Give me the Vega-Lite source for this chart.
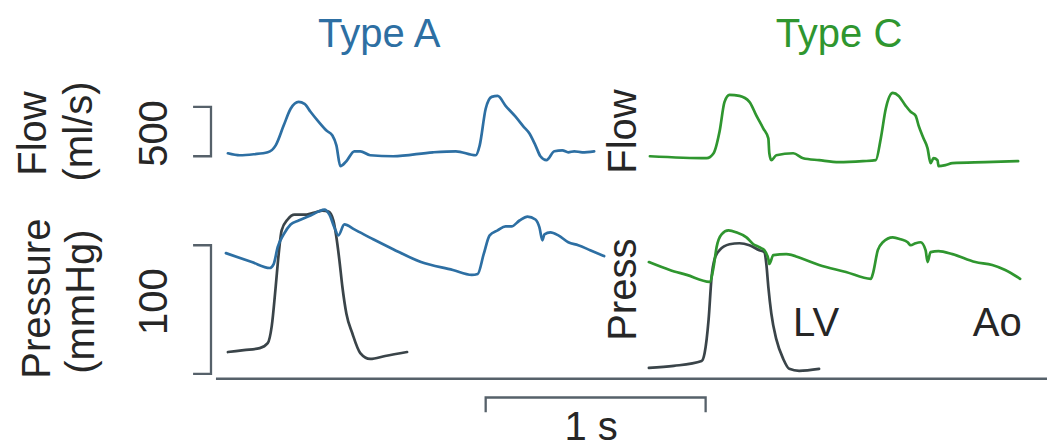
{
  "$schema": "https://vega.github.io/schema/vega-lite/v6.json",
  "width": 1052,
  "height": 448,
  "autosize": {"type": "fit", "contains": "padding"},
  "padding": 0,
  "background": "white",
  "config": {"view": {"stroke": null}, "text": {"font": "Liberation Sans"}},
  "datasets": {
    "guides": [
      {"g": "brFlow", "i": 0, "x": 194, "y": 108}, {"g": "brFlow", "i": 1, "x": 212, "y": 108}, {"g": "brFlow", "i": 2, "x": 212, "y": 158}, {"g": "brFlow", "i": 3, "x": 194, "y": 158},
      {"g": "brPress", "i": 0, "x": 194, "y": 248}, {"g": "brPress", "i": 1, "x": 212, "y": 248}, {"g": "brPress", "i": 2, "x": 212, "y": 378}, {"g": "brPress", "i": 3, "x": 194, "y": 378},
      {"g": "axis", "i": 0, "x": 217, "y": 383}, {"g": "axis", "i": 1, "x": 1052, "y": 383},
      {"g": "bar", "i": 0, "x": 488, "y": 417}, {"g": "bar", "i": 1, "x": 488, "y": 402}, {"g": "bar", "i": 2, "x": 709, "y": 402}, {"g": "bar", "i": 3, "x": 709, "y": 417}
    ],
    "lv": [
      {"s": "lvA", "i": 0, "x": 229, "y": 356}, {"s": "lvA", "i": 1, "x": 245, "y": 354}, {"s": "lvA", "i": 2, "x": 261, "y": 352}, {"s": "lvA", "i": 3, "x": 269, "y": 347}, {"s": "lvA", "i": 4, "x": 273, "y": 330}, {"s": "lvA", "i": 5, "x": 277, "y": 290}, {"s": "lvA", "i": 6, "x": 280, "y": 257}, {"s": "lvA", "i": 7, "x": 283, "y": 233}, {"s": "lvA", "i": 8, "x": 289, "y": 222}, {"s": "lvA", "i": 9, "x": 296, "y": 217}, {"s": "lvA", "i": 10, "x": 308, "y": 217}, {"s": "lvA", "i": 11, "x": 316, "y": 215}, {"s": "lvA", "i": 12, "x": 324, "y": 213}, {"s": "lvA", "i": 13, "x": 330, "y": 214}, {"s": "lvA", "i": 14, "x": 335, "y": 223}, {"s": "lvA", "i": 15, "x": 338, "y": 240}, {"s": "lvA", "i": 16, "x": 341, "y": 263}, {"s": "lvA", "i": 17, "x": 344, "y": 290}, {"s": "lvA", "i": 18, "x": 348, "y": 317}, {"s": "lvA", "i": 19, "x": 354, "y": 337}, {"s": "lvA", "i": 20, "x": 362, "y": 357}, {"s": "lvA", "i": 21, "x": 372, "y": 363}, {"s": "lvA", "i": 22, "x": 387, "y": 360}, {"s": "lvA", "i": 23, "x": 409, "y": 356},
      {"s": "lvC", "i": 0, "x": 652, "y": 372}, {"s": "lvC", "i": 1, "x": 677, "y": 370}, {"s": "lvC", "i": 2, "x": 705, "y": 365}, {"s": "lvC", "i": 3, "x": 708, "y": 357}, {"s": "lvC", "i": 4, "x": 712, "y": 323}, {"s": "lvC", "i": 5, "x": 715, "y": 280}, {"s": "lvC", "i": 6, "x": 718, "y": 262}, {"s": "lvC", "i": 7, "x": 723, "y": 253}, {"s": "lvC", "i": 8, "x": 733, "y": 247}, {"s": "lvC", "i": 9, "x": 743, "y": 246}, {"s": "lvC", "i": 10, "x": 753, "y": 248}, {"s": "lvC", "i": 11, "x": 763, "y": 253}, {"s": "lvC", "i": 12, "x": 768, "y": 255}, {"s": "lvC", "i": 13, "x": 770, "y": 267}, {"s": "lvC", "i": 14, "x": 772, "y": 290}, {"s": "lvC", "i": 15, "x": 775, "y": 317}, {"s": "lvC", "i": 16, "x": 780, "y": 343}, {"s": "lvC", "i": 17, "x": 787, "y": 363}, {"s": "lvC", "i": 18, "x": 793, "y": 373}, {"s": "lvC", "i": 19, "x": 803, "y": 375}, {"s": "lvC", "i": 20, "x": 823, "y": 373}
    ],
    "traces": [
      {"s": "flowA", "i": 0, "x": 229, "y": 155}, {"s": "flowA", "i": 1, "x": 241, "y": 157}, {"s": "flowA", "i": 2, "x": 255, "y": 156}, {"s": "flowA", "i": 3, "x": 269, "y": 154}, {"s": "flowA", "i": 4, "x": 277, "y": 147}, {"s": "flowA", "i": 5, "x": 285, "y": 127}, {"s": "flowA", "i": 6, "x": 292, "y": 110}, {"s": "flowA", "i": 7, "x": 300, "y": 103}, {"s": "flowA", "i": 8, "x": 306, "y": 105}, {"s": "flowA", "i": 9, "x": 312, "y": 113}, {"s": "flowA", "i": 10, "x": 320, "y": 123}, {"s": "flowA", "i": 11, "x": 328, "y": 132}, {"s": "flowA", "i": 12, "x": 334, "y": 137}, {"s": "flowA", "i": 13, "x": 338, "y": 147}, {"s": "flowA", "i": 14, "x": 342, "y": 168}, {"s": "flowA", "i": 15, "x": 348, "y": 163}, {"s": "flowA", "i": 16, "x": 356, "y": 153}, {"s": "flowA", "i": 17, "x": 362, "y": 153}, {"s": "flowA", "i": 18, "x": 372, "y": 157}, {"s": "flowA", "i": 19, "x": 395, "y": 158}, {"s": "flowA", "i": 20, "x": 435, "y": 154}, {"s": "flowA", "i": 21, "x": 458, "y": 153}, {"s": "flowA", "i": 22, "x": 478, "y": 157}, {"s": "flowA", "i": 23, "x": 482, "y": 147}, {"s": "flowA", "i": 24, "x": 488, "y": 110}, {"s": "flowA", "i": 25, "x": 494, "y": 98}, {"s": "flowA", "i": 26, "x": 500, "y": 97}, {"s": "flowA", "i": 27, "x": 508, "y": 107}, {"s": "flowA", "i": 28, "x": 518, "y": 118}, {"s": "flowA", "i": 29, "x": 526, "y": 128}, {"s": "flowA", "i": 30, "x": 532, "y": 135}, {"s": "flowA", "i": 31, "x": 538, "y": 147}, {"s": "flowA", "i": 32, "x": 543, "y": 158}, {"s": "flowA", "i": 33, "x": 549, "y": 162}, {"s": "flowA", "i": 34, "x": 557, "y": 153}, {"s": "flowA", "i": 35, "x": 565, "y": 152}, {"s": "flowA", "i": 36, "x": 571, "y": 154}, {"s": "flowA", "i": 37, "x": 577, "y": 153}, {"s": "flowA", "i": 38, "x": 585, "y": 154}, {"s": "flowA", "i": 39, "x": 597, "y": 153},
      {"s": "pressA", "i": 0, "x": 227, "y": 256}, {"s": "pressA", "i": 1, "x": 253, "y": 265}, {"s": "pressA", "i": 2, "x": 271, "y": 271}, {"s": "pressA", "i": 3, "x": 275, "y": 267}, {"s": "pressA", "i": 4, "x": 279, "y": 250}, {"s": "pressA", "i": 5, "x": 285, "y": 237}, {"s": "pressA", "i": 6, "x": 292, "y": 227}, {"s": "pressA", "i": 7, "x": 300, "y": 223}, {"s": "pressA", "i": 8, "x": 312, "y": 218}, {"s": "pressA", "i": 9, "x": 320, "y": 214}, {"s": "pressA", "i": 10, "x": 326, "y": 212}, {"s": "pressA", "i": 11, "x": 331, "y": 217}, {"s": "pressA", "i": 12, "x": 336, "y": 230}, {"s": "pressA", "i": 13, "x": 340, "y": 238}, {"s": "pressA", "i": 14, "x": 346, "y": 227}, {"s": "pressA", "i": 15, "x": 356, "y": 232}, {"s": "pressA", "i": 16, "x": 375, "y": 242}, {"s": "pressA", "i": 17, "x": 395, "y": 252}, {"s": "pressA", "i": 18, "x": 423, "y": 265}, {"s": "pressA", "i": 19, "x": 455, "y": 273}, {"s": "pressA", "i": 20, "x": 474, "y": 278}, {"s": "pressA", "i": 21, "x": 480, "y": 277}, {"s": "pressA", "i": 22, "x": 486, "y": 257}, {"s": "pressA", "i": 23, "x": 492, "y": 238}, {"s": "pressA", "i": 24, "x": 500, "y": 233}, {"s": "pressA", "i": 25, "x": 508, "y": 229}, {"s": "pressA", "i": 26, "x": 514, "y": 229}, {"s": "pressA", "i": 27, "x": 522, "y": 223}, {"s": "pressA", "i": 28, "x": 530, "y": 219}, {"s": "pressA", "i": 29, "x": 538, "y": 222}, {"s": "pressA", "i": 30, "x": 542, "y": 230}, {"s": "pressA", "i": 31, "x": 545, "y": 243}, {"s": "pressA", "i": 32, "x": 547, "y": 237}, {"s": "pressA", "i": 33, "x": 553, "y": 235}, {"s": "pressA", "i": 34, "x": 561, "y": 238}, {"s": "pressA", "i": 35, "x": 571, "y": 245}, {"s": "pressA", "i": 36, "x": 581, "y": 248}, {"s": "pressA", "i": 37, "x": 593, "y": 253}, {"s": "pressA", "i": 38, "x": 607, "y": 259},
      {"s": "flowC", "i": 0, "x": 653, "y": 158}, {"s": "flowC", "i": 1, "x": 710, "y": 160}, {"s": "flowC", "i": 2, "x": 717, "y": 155}, {"s": "flowC", "i": 3, "x": 723, "y": 133}, {"s": "flowC", "i": 4, "x": 728, "y": 103}, {"s": "flowC", "i": 5, "x": 733, "y": 96}, {"s": "flowC", "i": 6, "x": 743, "y": 97}, {"s": "flowC", "i": 7, "x": 753, "y": 103}, {"s": "flowC", "i": 8, "x": 760, "y": 117}, {"s": "flowC", "i": 9, "x": 767, "y": 130}, {"s": "flowC", "i": 10, "x": 772, "y": 140}, {"s": "flowC", "i": 11, "x": 773, "y": 155}, {"s": "flowC", "i": 12, "x": 775, "y": 162}, {"s": "flowC", "i": 13, "x": 780, "y": 157}, {"s": "flowC", "i": 14, "x": 797, "y": 155}, {"s": "flowC", "i": 15, "x": 807, "y": 160}, {"s": "flowC", "i": 16, "x": 823, "y": 162}, {"s": "flowC", "i": 17, "x": 843, "y": 164}, {"s": "flowC", "i": 18, "x": 867, "y": 163}, {"s": "flowC", "i": 19, "x": 880, "y": 162}, {"s": "flowC", "i": 20, "x": 885, "y": 140}, {"s": "flowC", "i": 21, "x": 890, "y": 110}, {"s": "flowC", "i": 22, "x": 897, "y": 94}, {"s": "flowC", "i": 23, "x": 903, "y": 97}, {"s": "flowC", "i": 24, "x": 910, "y": 107}, {"s": "flowC", "i": 25, "x": 915, "y": 113}, {"s": "flowC", "i": 26, "x": 920, "y": 117}, {"s": "flowC", "i": 27, "x": 923, "y": 127}, {"s": "flowC", "i": 28, "x": 928, "y": 140}, {"s": "flowC", "i": 29, "x": 932, "y": 150}, {"s": "flowC", "i": 30, "x": 935, "y": 165}, {"s": "flowC", "i": 31, "x": 938, "y": 160}, {"s": "flowC", "i": 32, "x": 942, "y": 162}, {"s": "flowC", "i": 33, "x": 943, "y": 168}, {"s": "flowC", "i": 34, "x": 950, "y": 167}, {"s": "flowC", "i": 35, "x": 957, "y": 165}, {"s": "flowC", "i": 36, "x": 990, "y": 164}, {"s": "flowC", "i": 37, "x": 1023, "y": 163},
      {"s": "pressC", "i": 0, "x": 652, "y": 265}, {"s": "pressC", "i": 1, "x": 673, "y": 273}, {"s": "pressC", "i": 2, "x": 690, "y": 278}, {"s": "pressC", "i": 3, "x": 713, "y": 285}, {"s": "pressC", "i": 4, "x": 717, "y": 270}, {"s": "pressC", "i": 5, "x": 720, "y": 250}, {"s": "pressC", "i": 6, "x": 725, "y": 237}, {"s": "pressC", "i": 7, "x": 732, "y": 233}, {"s": "pressC", "i": 8, "x": 740, "y": 235}, {"s": "pressC", "i": 9, "x": 750, "y": 240}, {"s": "pressC", "i": 10, "x": 757, "y": 247}, {"s": "pressC", "i": 11, "x": 763, "y": 250}, {"s": "pressC", "i": 12, "x": 768, "y": 253}, {"s": "pressC", "i": 13, "x": 772, "y": 262}, {"s": "pressC", "i": 14, "x": 773, "y": 267}, {"s": "pressC", "i": 15, "x": 777, "y": 258}, {"s": "pressC", "i": 16, "x": 790, "y": 257}, {"s": "pressC", "i": 17, "x": 807, "y": 262}, {"s": "pressC", "i": 18, "x": 823, "y": 268}, {"s": "pressC", "i": 19, "x": 850, "y": 275}, {"s": "pressC", "i": 20, "x": 875, "y": 282}, {"s": "pressC", "i": 21, "x": 877, "y": 277}, {"s": "pressC", "i": 22, "x": 882, "y": 253}, {"s": "pressC", "i": 23, "x": 887, "y": 245}, {"s": "pressC", "i": 24, "x": 897, "y": 240}, {"s": "pressC", "i": 25, "x": 905, "y": 242}, {"s": "pressC", "i": 26, "x": 912, "y": 245}, {"s": "pressC", "i": 27, "x": 915, "y": 248}, {"s": "pressC", "i": 28, "x": 920, "y": 246}, {"s": "pressC", "i": 29, "x": 925, "y": 245}, {"s": "pressC", "i": 30, "x": 930, "y": 253}, {"s": "pressC", "i": 31, "x": 932, "y": 265}, {"s": "pressC", "i": 32, "x": 935, "y": 255}, {"s": "pressC", "i": 33, "x": 943, "y": 254}, {"s": "pressC", "i": 34, "x": 957, "y": 257}, {"s": "pressC", "i": 35, "x": 980, "y": 265}, {"s": "pressC", "i": 36, "x": 997, "y": 268}, {"s": "pressC", "i": 37, "x": 1010, "y": 273}, {"s": "pressC", "i": 38, "x": 1025, "y": 282}
    ],
    "titles": [
      {"label": "Type A", "panel": "A", "x": 381, "y": 48},
      {"label": "Type C", "panel": "C", "x": 843, "y": 48}
    ],
    "vlabels": [
      {"label": "Flow", "x": 34, "y": 135},
      {"label": "(ml/s)", "x": 80, "y": 133},
      {"label": "500", "x": 156, "y": 135},
      {"label": "Pressure", "x": 38, "y": 302},
      {"label": "(mmHg)", "x": 82, "y": 305},
      {"label": "100", "x": 156, "y": 305},
      {"label": "Flow", "x": 627, "y": 133},
      {"label": "Press", "x": 627, "y": 293}
    ],
    "hlabels": [
      {"label": "LV", "x": 820, "y": 340},
      {"label": "Ao", "x": 1002, "y": 340},
      {"label": "1 s", "x": 594, "y": 445}
    ]
  },
  "encoding": {
    "x": {"field": "x", "type": "quantitative", "scale": {"domain": [0, 1052], "nice": false, "zero": false}, "axis": null},
    "y": {"field": "y", "type": "quantitative", "scale": {"domain": [0, 448], "reverse": true, "nice": false, "zero": false}, "axis": null}
  },
  "layer": [
    {
      "data": {"name": "guides"},
      "mark": {"type": "line", "color": "#56616a", "strokeWidth": 2.3},
      "encoding": {"detail": {"field": "g"}, "order": {"field": "i", "type": "quantitative"}}
    },
    {
      "data": {"name": "lv"},
      "mark": {"type": "line", "color": "#3a4449", "strokeWidth": 2.7, "strokeJoin": "round", "strokeCap": "round", "interpolate": "monotone"},
      "encoding": {"detail": {"field": "s"}, "order": {"field": "i", "type": "quantitative"}}
    },
    {
      "data": {"name": "traces"},
      "mark": {"type": "line", "strokeWidth": 2.7, "strokeJoin": "round", "strokeCap": "round", "interpolate": "monotone"},
      "encoding": {
        "color": {"field": "s", "type": "nominal", "scale": {"domain": ["flowA", "pressA", "flowC", "pressC"], "range": ["#2d6fa3", "#2d6fa3", "#2f962f", "#2f962f"]}, "legend": null},
        "order": {"field": "i", "type": "quantitative"}
      }
    },
    {
      "data": {"name": "titles"},
      "transform": [{"filter": "datum.panel === 'A'"}],
      "mark": {"type": "text", "fontSize": 40, "color": "#2d6fa3", "align": "center", "baseline": "alphabetic"},
      "encoding": {"text": {"field": "label"}}
    },
    {
      "data": {"name": "titles"},
      "transform": [{"filter": "datum.panel === 'C'"}],
      "mark": {"type": "text", "fontSize": 40, "color": "#2f962f", "align": "center", "baseline": "alphabetic"},
      "encoding": {"text": {"field": "label"}}
    },
    {
      "data": {"name": "vlabels"},
      "mark": {"type": "text", "fontSize": 40, "color": "#262626", "align": "center", "baseline": "middle", "angle": 270},
      "encoding": {"text": {"field": "label"}}
    },
    {
      "data": {"name": "hlabels"},
      "mark": {"type": "text", "fontSize": 40, "color": "#262626", "align": "center", "baseline": "alphabetic"},
      "encoding": {"text": {"field": "label"}}
    }
  ]
}
